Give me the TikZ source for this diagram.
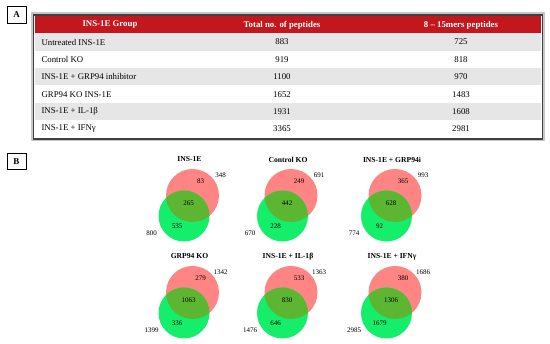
\documentclass[tikz,border=0pt]{standalone}
\usepackage{fontspec}
\setmainfont{Liberation Serif}
\usepackage{xcolor}
\definecolor{rojocab}{HTML}{C1171D}
\definecolor{grisfila}{HTML}{E6E6E6}
\definecolor{rojoset}{HTML}{FF8585}
\definecolor{verdeset}{HTML}{14EE6A}
\definecolor{olivaset}{HTML}{5DB632}

\begin{document}
\begin{tikzpicture}[x=1pt, y=-1pt,
  etiqueta/.style={rectangle, draw, line width=0.8pt, minimum width=19pt,
               minimum height=16.5pt, inner sep=0pt,
               font=\bfseries\fontsize{9}{10}\selectfont},
  cabecera/.style={text=white, font=\bfseries\fontsize{8.8}{10}\selectfont},
  celda/.style={font=\fontsize{8.8}{10}\selectfont},
  titulo/.style={font=\bfseries\fontsize{7.6}{9}\selectfont},
  cifra/.style={font=\fontsize{7}{8}\selectfont, inner sep=0pt}
]
\useasboundingbox (0,0) rectangle (550,344);

% Panel A: tabla de peptidos
\node[etiqueta] (panelA) at (16.5,15) {A};
\fill[rojocab] (35,16.5) rectangle (541,33.3);
\foreach \i in {0,2,4}
  \fill[grisfila] (35,33.3+17.4*\i) rectangle (541,50.7+17.4*\i);
\draw[black!22, line width=2pt] (32,13.5) rectangle (544,140.5);
\draw[black!75, line width=1.6pt] (33.6,15.2) rectangle (542.4,139);

\node[cabecera] (colgrupo) at (110,25) {INS-1E Group};
\node[cabecera] (coltotal) at (282,25) {Total no. of peptides};
\node[cabecera] (colmers) at (461,25) {8 -- 15mers peptides};
\foreach \grupo/\total/\mers [count=\i] in {Untreated INS-1E/883/725,
    Control KO/919/818, INS-1E + GRP94 inhibitor/1100/970,
    GRP94 KO INS-1E/1652/1483, INS-1E + IL-1β/1931/1608,
    INS-1E + IFNγ/3365/2981}
{
  \node[celda, anchor=west] (grupo\i) at (38,24.6+17.4*\i) {\grupo};
  \node[celda] (total\i) at (282,24.6+17.4*\i) {\total};
  \node[celda] (mers\i) at (461,24.6+17.4*\i) {\mers};
}

% Panel B: diagramas de Venn
\node[etiqueta] (panelB) at (16.5,161.5) {B};
\foreach \cx/\cy/\nombre/\a/\b/\c/\ta/\tb [count=\k] in {
    192.5/195.5/INS-1E/83/265/535/348/800,
    291/195.5/Control KO/249/442/228/691/670,
    395/195.5/INS-1E + GRP94i/365/628/92/993/774,
    192.5/292.5/GRP94 KO/279/1063/336/1342/1399,
    291/292.5/INS-1E + IL-1β/533/830/646/1363/1476,
    395/292.5/INS-1E + IFNγ/380/1306/1679/1686/2985}
{
  \fill[rojoset] (\cx,\cy) circle (26.5pt);
  \fill[verdeset] (\cx-8.5,\cy+20.5) circle (25.5pt);
  \begin{scope}
    \clip (\cx,\cy) circle (26.5pt);
    \fill[olivaset] (\cx-8.5,\cy+20.5) circle (25.5pt);
  \end{scope}
  \node[titulo] (titulo\k) at (\cx-3,\cy-36) {\nombre};
  \node[cifra] (solo\k) at (\cx+8,\cy-14) {\a};
  \node[cifra] (comun\k) at (\cx-4,\cy+8) {\b};
  \node[cifra] (mers\k) at (\cx-15.5,\cy+31) {\c};
  \node[cifra] (totala\k) at (\cx+28,\cy-20.5) {\ta};
  \node[cifra] (totalb\k) at (\cx-41,\cy+38) {\tb};
}
\end{tikzpicture}
\end{document}
